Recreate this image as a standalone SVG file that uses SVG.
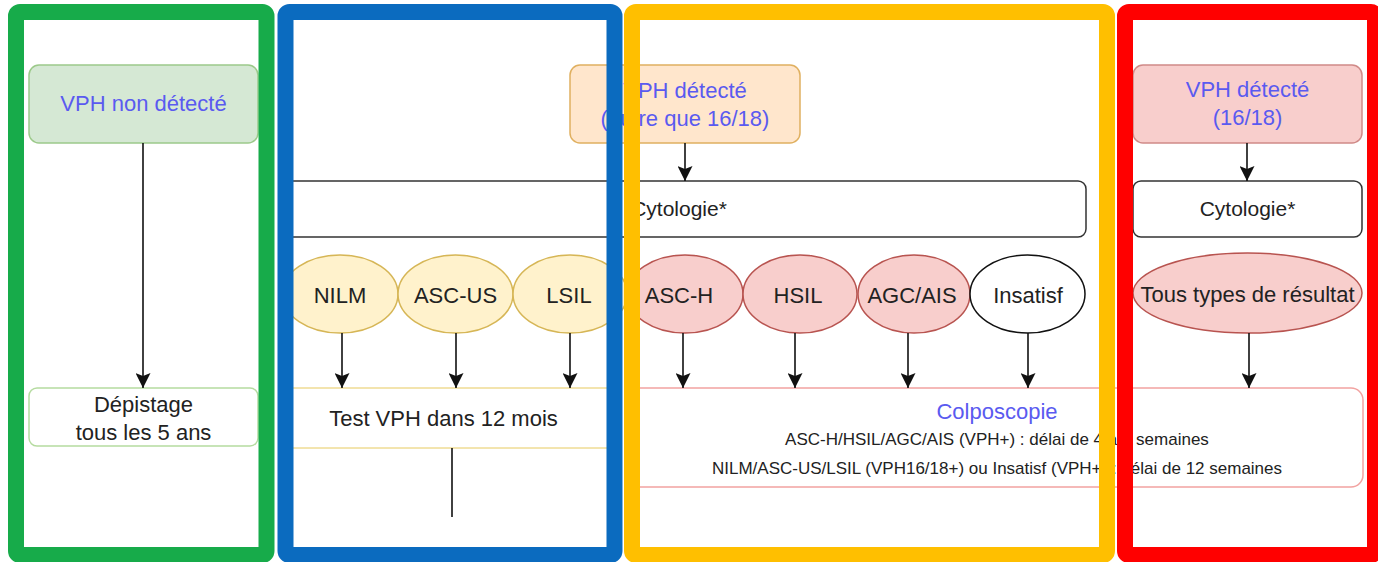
<svg xmlns="http://www.w3.org/2000/svg" width="1378" height="562" viewBox="0 0 1378 562">
  <defs>
    <marker id="arrow" markerUnits="userSpaceOnUse" markerWidth="15" markerHeight="15" viewBox="0 0 15 15" refX="15" refY="7.5" orient="auto">
      <path d="M0,0 L15,7.5 L0,15 L3,7.5 z" fill="#111"/>
    </marker>
    <style>
      .lbl { font-family: "Liberation Sans", Arial, sans-serif; font-size: 22px; fill: #222; text-anchor: middle; dominant-baseline: central; }
      .blue { fill: #5a5af0; }
      .small { font-size: 17px; }
      .conn { stroke: #111; stroke-width: 1.6; fill: none; }
      .frame { fill: none; stroke-width: 16; }
      .yel { fill: #fff2cc; stroke: #d6b656; stroke-width: 1.5; }
      .red { fill: #f8cecc; stroke: #b85450; stroke-width: 1.5; }
    </style>
  </defs>
  <rect x="0" y="0" width="1378" height="562" fill="#ffffff"/>

  <!-- Top nodes -->
  <g id="vph-non-detecte">
    <rect x="29" y="65" width="229" height="78" rx="10" fill="#d5e8d4" stroke="#9cc98a" stroke-width="1.5"/>
    <text class="lbl blue" x="143.5" y="103">VPH non détecté</text>
  </g>
  <g id="vph-detecte-autre">
    <rect x="570" y="65" width="230" height="78" rx="10" fill="#ffe6cc" stroke="#e0b060" stroke-width="1.5"/>
    <text class="lbl blue" x="685" y="90">VPH détecté</text>
    <text class="lbl blue" x="685" y="118">(autre que 16/18)</text>
  </g>
  <g id="vph-detecte-1618">
    <rect x="1133" y="65" width="229" height="78" rx="10" fill="#f8cecc" stroke="#d08a88" stroke-width="1.5"/>
    <text class="lbl blue" x="1247.5" y="89">VPH détecté</text>
    <text class="lbl blue" x="1247.5" y="117">(16/18)</text>
  </g>

  <!-- Cytologie boxes -->
  <g id="cytologie-main">
    <rect x="281" y="181" width="805" height="56" rx="8" fill="#ffffff" stroke="#333" stroke-width="1.5"/>
    <text class="lbl" x="679" y="208" style="font-size:21px">Cytologie*</text>
  </g>
  <g id="cytologie-1618">
    <rect x="1133" y="181" width="229" height="56" rx="8" fill="#ffffff" stroke="#333" stroke-width="1.5"/>
    <text class="lbl" x="1247.5" y="208" style="font-size:21px">Cytologie*</text>
  </g>

  <!-- Ellipses -->
  <g id="nilm"><ellipse class="yel" cx="340" cy="294" rx="58" ry="39"/><text class="lbl" x="340" y="295">NILM</text></g>
  <g id="asc-us"><ellipse class="yel" cx="455.5" cy="294" rx="57.5" ry="39"/><text class="lbl" x="455.5" y="295">ASC-US</text></g>
  <g id="lsil"><ellipse class="yel" cx="570" cy="294" rx="57" ry="39"/><text class="lbl" x="569" y="295">LSIL</text></g>
  <g id="asc-h"><ellipse class="red" cx="685" cy="294" rx="58" ry="39"/><text class="lbl" x="679" y="295">ASC-H</text></g>
  <g id="hsil"><ellipse class="red" cx="800" cy="294" rx="57" ry="39"/><text class="lbl" x="798" y="295">HSIL</text></g>
  <g id="agc-ais"><ellipse class="red" cx="914" cy="294" rx="56" ry="39"/><text class="lbl" x="912" y="295">AGC/AIS</text></g>
  <g id="insatisf"><ellipse cx="1027.5" cy="294" rx="57.5" ry="39" fill="#ffffff" stroke="#111" stroke-width="1.5"/><text class="lbl" x="1028" y="295">Insatisf</text></g>
  <g id="tous-types"><ellipse class="red" cx="1247.5" cy="293" rx="114.5" ry="40"/><text class="lbl" x="1247.5" y="294">Tous types de résultat</text></g>

  <!-- Bottom boxes -->
  <g id="depistage">
    <rect x="29" y="388" width="229" height="58" rx="8" fill="#ffffff" stroke="#b5dba0" stroke-width="1.5"/>
    <text class="lbl" x="143.5" y="404">Dépistage</text>
    <text class="lbl" x="143.5" y="432">tous les 5 ans</text>
  </g>
  <g id="test-vph">
    <rect x="281" y="388" width="335" height="60" fill="#ffffff" stroke="#efdc94" stroke-width="1.5"/>
    <text class="lbl" x="443.5" y="418">Test VPH dans 12 mois</text>
  </g>
  <g id="colposcopie">
    <rect x="628" y="388" width="735" height="99" rx="12" fill="#ffffff" stroke="#f2a3a1" stroke-width="1.5"/>
    <text class="lbl blue" x="997" y="411">Colposcopie</text>
    <text class="lbl small" x="997" y="439">ASC-H/HSIL/AGC/AIS (VPH+) : délai de 4 à 6 semaines</text>
    <text class="lbl small" x="997" y="468">NILM/ASC-US/LSIL (VPH16/18+) ou Insatisf (VPH+) : délai de 12 semaines</text>
  </g>

  <!-- Connectors -->
  <g id="connectors">
    <line class="conn" x1="143" y1="143" x2="143" y2="388" marker-end="url(#arrow)"/>
    <line class="conn" x1="685" y1="143" x2="685" y2="181" marker-end="url(#arrow)"/>
    <line class="conn" x1="1247" y1="143" x2="1247" y2="181" marker-end="url(#arrow)"/>
    <line class="conn" x1="342" y1="333" x2="342" y2="388" marker-end="url(#arrow)"/>
    <line class="conn" x1="456" y1="333" x2="456" y2="388" marker-end="url(#arrow)"/>
    <line class="conn" x1="570" y1="333" x2="570" y2="388" marker-end="url(#arrow)"/>
    <line class="conn" x1="683" y1="333" x2="683" y2="388" marker-end="url(#arrow)"/>
    <line class="conn" x1="795" y1="333" x2="795" y2="388" marker-end="url(#arrow)"/>
    <line class="conn" x1="908" y1="333" x2="908" y2="388" marker-end="url(#arrow)"/>
    <line class="conn" x1="1028" y1="333" x2="1028" y2="388" marker-end="url(#arrow)"/>
    <line class="conn" x1="1249" y1="333" x2="1249" y2="388" marker-end="url(#arrow)"/>
    <line class="conn" x1="452" y1="448" x2="452" y2="517"/>
  </g>

  <!-- Frames -->
  <g id="frames">
    <rect class="frame" x="16" y="12" width="250.5" height="543" rx="4" stroke="#17ab4a"/>
    <rect class="frame" x="285.5" y="12" width="329" height="543" rx="4" stroke="#0b6bbf"/>
    <rect class="frame" x="632" y="12" width="475" height="543" rx="4" stroke="#ffbf00"/>
    <rect class="frame" x="1125" y="12" width="250" height="543" rx="4" stroke="#ff0000"/>
  </g>
</svg>
